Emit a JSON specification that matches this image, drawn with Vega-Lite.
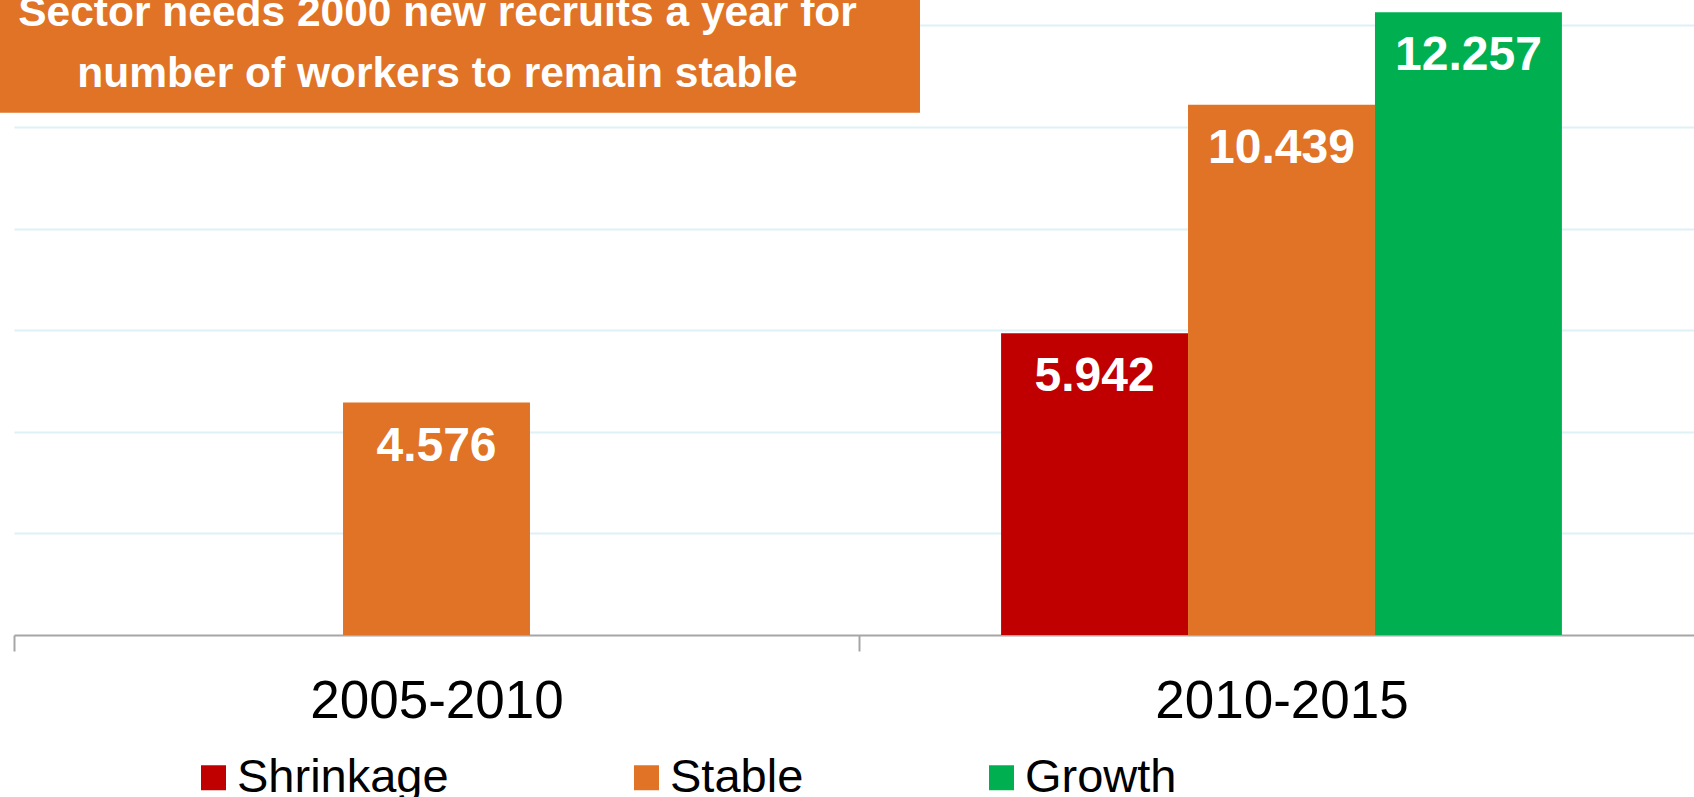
{
  "$schema": "https://vega.github.io/schema/vega-lite/v6.json",
  "autosize": {"type": "none"},
  "padding": {"left": 14, "top": 0, "right": 0, "bottom": 162},
  "width": 1680,
  "height": 635,
  "background": "white",
  "config": {"view": {"stroke": null}, "font": "Liberation Sans"},
  "layer": [
    {
      "data": {"values": [
        {"period": "2005-2010", "scenario": "Stable", "recruits": 4.576},
        {"period": "2010-2015", "scenario": "Shrinkage", "recruits": 5.942},
        {"period": "2010-2015", "scenario": "Stable", "recruits": 10.439},
        {"period": "2010-2015", "scenario": "Growth", "recruits": 12.257}
      ]},
      "encoding": {
        "x": {
          "field": "period", "type": "nominal", "title": null,
          "scale": {"domain": ["2005-2010", "2010-2015"], "range": [0, 1690], "paddingInner": 0, "paddingOuter": 0},
          "axis": {"labelFontSize": 53, "labelColor": "black", "labelFont": "Liberation Sans", "labelAngle": 0, "labelLimit": 0, "tickBand": "extent", "tickSize": 16, "tickWidth": 2, "tickColor": "#a6a6a6", "domainColor": "#a6a6a6", "domainWidth": 2, "labelPadding": 24, "grid": false}
        },
        "xOffset": {
          "field": "scenario", "type": "nominal",
          "scale": {"domain": ["Shrinkage", "Stable", "Growth"], "paddingInner": 0, "paddingOuter": 0.76}
        },
        "y": {
          "field": "recruits", "type": "quantitative", "title": null,
          "scale": {"domain": [0, 12.5], "nice": false},
          "axis": {"values": [2, 4, 6, 8, 10, 12], "labels": false, "ticks": false, "domain": false, "grid": true, "gridColor": "#ddf1f7", "gridWidth": 2}
        },
        "color": {
          "field": "scenario", "type": "nominal",
          "scale": {"domain": ["Shrinkage", "Stable", "Growth"], "range": ["#C00000", "#E07325", "#00B050"]},
          "legend": {"title": null, "orient": "none", "legendX": 176, "legendY": 754, "direction": "horizontal", "symbolType": "square", "symbolSize": 625, "symbolStrokeWidth": 0, "labelFontSize": 47, "labelFont": "Liberation Sans", "labelColor": "black", "labelOffset": 0, "columnPadding": 174, "padding": 0, "labelLimit": 0}
        }
      },
      "layer": [
        {"mark": {"type": "bar"}},
        {
          "mark": {"type": "text", "baseline": "alphabetic", "dy": 58, "fontSize": 48, "fontWeight": "bold", "align": "center"},
          "encoding": {
            "text": {"field": "recruits", "type": "quantitative", "format": ".3f"},
            "color": {"value": "white"}
          }
        }
      ]
    },
    {
      "data": {"values": [{"note": "Sector needs 2000 new recruits a year for\nnumber of workers to remain stable"}]},
      "layer": [
        {
          "mark": {"type": "bar", "color": "#E07325", "width": 920, "xOffset": 23.5},
          "encoding": {
            "x": {"datum": "2005-2010", "type": "nominal"},
            "y": {"datum": 12.5, "type": "quantitative"},
            "y2": {"datum": 10.28}
          }
        },
        {
          "mark": {"type": "text", "color": "white", "fontSize": 42.5, "fontWeight": "bold", "lineBreak": "\n", "lineHeight": 61, "baseline": "alphabetic", "align": "center", "dx": 1},
          "encoding": {
            "x": {"datum": "2005-2010", "type": "nominal"},
            "y": {"datum": 11.99, "type": "quantitative"},
            "text": {"field": "note"}
          }
        }
      ]
    }
  ]
}
